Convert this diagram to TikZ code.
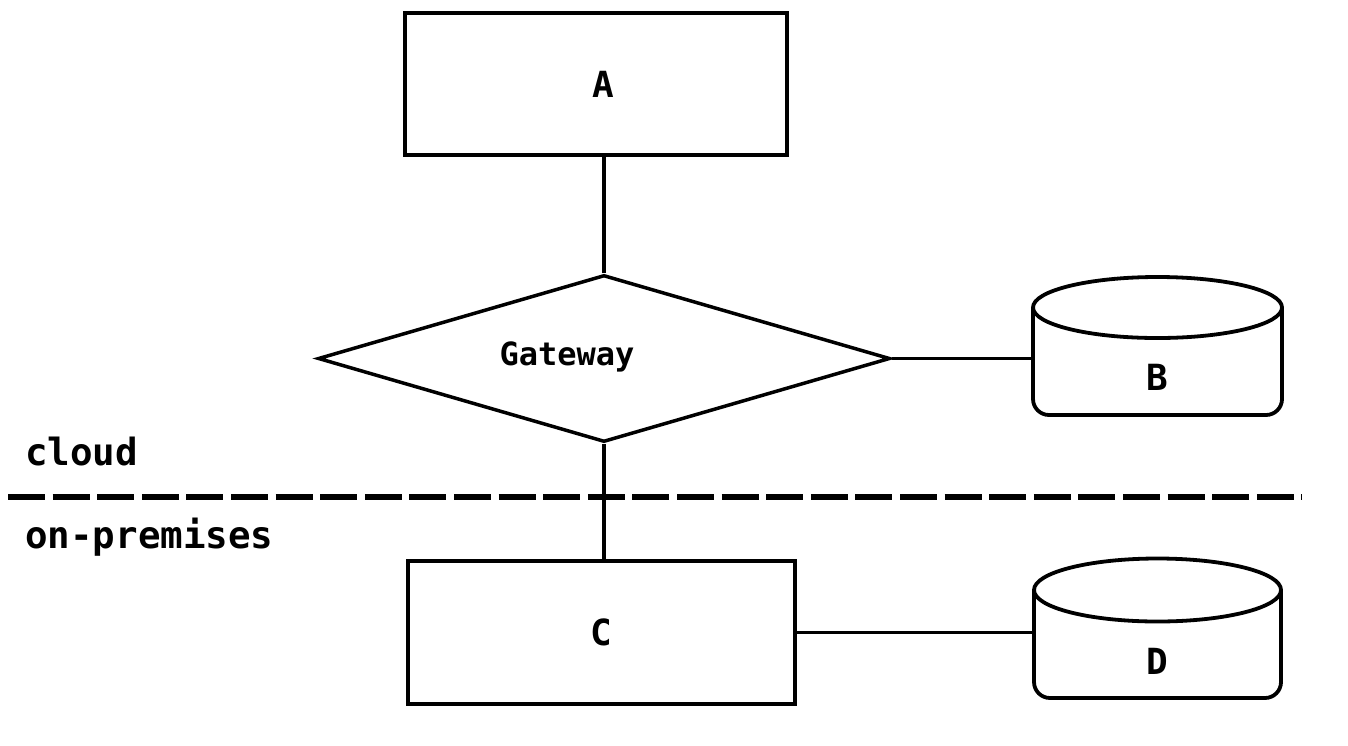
\documentclass[tikz,border=0pt]{standalone}
\usepackage{fontspec}
\setmonofont{DejaVu Sans Mono}
\usetikzlibrary{shapes.geometric}
\tikzset{
  box/.style={draw, line width=3.8pt, rectangle, inner sep=0pt,
    font=\ttfamily\bfseries\fontsize{36}{40}\selectfont},
  gate/.style={draw, line width=3.5pt, diamond, inner sep=0pt},
  dbarea/.style={draw=none, rectangle, inner sep=0pt},
  dbline/.style={line width=3.8pt, rounded corners=16pt},
  letter/.style={font=\ttfamily\bfseries\fontsize{36}{40}\selectfont, inner sep=0pt},
  gwfont/.style={font=\ttfamily\bfseries\fontsize{32}{36}\selectfont, inner sep=0pt},
  zone/.style={font=\ttfamily\bfseries\fontsize{37.5}{42}\selectfont, inner sep=0pt, anchor=base west},
  link/.style={line width=3.2pt},
  divider/.style={line width=5.5pt, dash pattern=on 37pt off 7.6pt}
}
\begin{document}
\begin{tikzpicture}[x=1pt,y=-1pt]
\useasboundingbox (0,0) rectangle (1348,745);
\fill[white] (0,0) rectangle (1348,745);

% boxes
\node[box, minimum width=382pt, minimum height=142pt] (A) at (596,84) {\hspace*{14pt}A};
\node[box, minimum width=387pt, minimum height=143pt] (C) at (601.5,632.5) {C};

% gateway diamond
\node[gate, minimum width=572pt, minimum height=167pt] (G) at (604,358.5) {};
\node[gwfont] (Gtext) at (567,357) {Gateway};

% database B
\node[dbarea, minimum width=249pt, minimum height=138pt] (B) at (1157.5,346) {};
\draw[dbline] (1033,307.5) -- (1033,415) -- (1282,415) -- (1282,307.5);
\draw[line width=3.8pt] (1157.5,307.5) ellipse [x radius=124.5pt, y radius=30.5pt];
\node[letter] (Blabel) at (1157,377) {B};

% database D
\node[dbarea, minimum width=247pt, minimum height=140pt] (D) at (1157.5,628) {};
\draw[dbline] (1034,590) -- (1034,698) -- (1281,698) -- (1281,590);
\draw[line width=3.8pt] (1157.5,590) ellipse [x radius=123.5pt, y radius=31.5pt];
\node[letter] (Dlabel) at (1157,661) {D};

% connectors
\draw[link] (G.north) -- (G.north |- A.south);
\draw[link] (G.south) -- (G.south |- C.north);
\draw[link] (G.east) -- (G.east -| B.west);
\draw[link] (C.east) -- (C.east -| D.west);

% zone divider
\coordinate (divL) at (8,497);
\coordinate (divR) at (1302,497);
\draw[divider] (divL) -- (divR);
\node[zone] (cloud) at (25,465) {cloud};
\node[zone] (onprem) at (25,548) {on-premises};
\end{tikzpicture}
\end{document}
